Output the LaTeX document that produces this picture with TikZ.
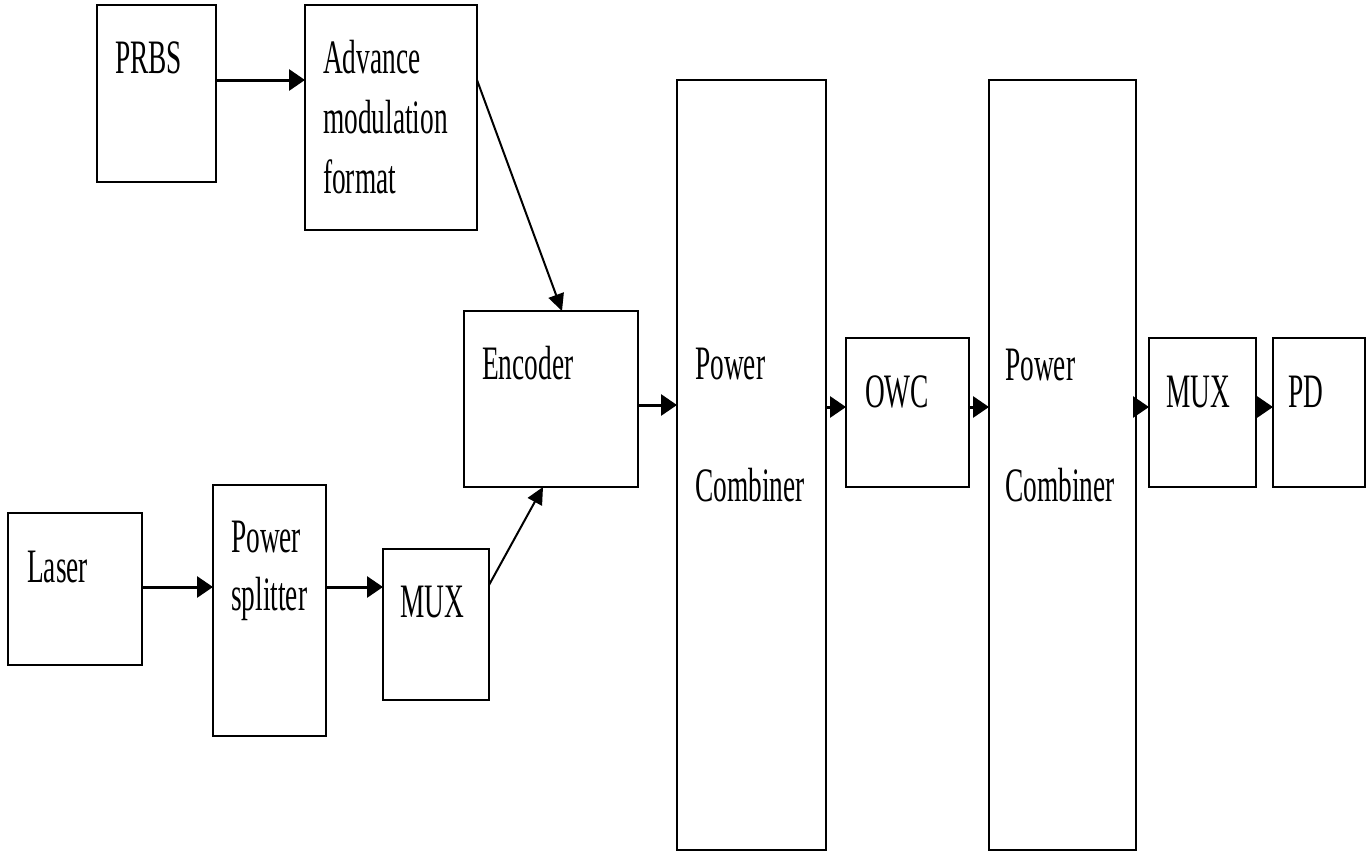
\documentclass[tikz,border=0pt]{standalone}
\usepackage{fontspec}
\setmainfont{Liberation Serif}
\usetikzlibrary{arrows.meta}
\newcommand{\narrow}[1]{\scalebox{0.57}[1]{#1}}
\begin{document}
\begin{tikzpicture}[x=1pt,y=-1pt,
  blk/.style={draw, line width=2.8pt, inner sep=0pt, outer sep=0pt},
  lbl/.style={inner sep=0pt, anchor=base west, font=\fontsize{48}{60}\selectfont},
  flow/.style={line width=3pt, -{Triangle[length=16pt,width=21pt]}},
  slant/.style={line width=2pt, -{Triangle[length=17pt,width=16pt]}}]
\useasboundingbox (0,0) rectangle (1368,852);
% blocks
\node[blk, minimum width=119pt, minimum height=177pt] (prbs)  at (156.5,93.5) {};
\node[blk, minimum width=172pt, minimum height=225pt] (adv)   at (391,117.5) {};
\node[blk, minimum width=174pt, minimum height=176pt] (enc)   at (551,399) {};
\node[blk, minimum width=149pt, minimum height=770pt] (pcA)   at (751.5,465) {};
\node[blk, minimum width=123pt, minimum height=149pt] (owc)   at (907.5,412.5) {};
\node[blk, minimum width=147pt, minimum height=770pt] (pcB)   at (1062.5,465) {};
\node[blk, minimum width=107pt, minimum height=149pt] (muxB)  at (1202.5,412.5) {};
\node[blk, minimum width=92pt,  minimum height=149pt] (pd)    at (1319,412.5) {};
\node[blk, minimum width=134pt, minimum height=152pt] (laser) at (75,589) {};
\node[blk, minimum width=113pt, minimum height=251pt] (psp)   at (269.5,610.5) {};
\node[blk, minimum width=106pt, minimum height=151pt] (muxA)  at (436,624.5) {};
% labels
\node[lbl] (tprbs) at (115,73) {\narrow{PRBS}};
\node[lbl] (tadv1) at (323,73) {\narrow{Advance}};
\node[lbl] (tadv2) at (323,133) {\narrow{modulation}};
\node[lbl] (tadv3) at (323,193) {\narrow{format}};
\node[lbl] (tenc) at (482,379) {\narrow{Encoder}};
\node[lbl] (tpcA1) at (695,379) {\narrow{Power}};
\node[lbl] (tpcA2) at (695,501) {\narrow{Combiner}};
\node[lbl] (towc) at (865,407) {\narrow{OWC}};
\node[lbl] (tpcB1) at (1005,380) {\narrow{Power}};
\node[lbl] (tpcB2) at (1005,501) {\narrow{Combiner}};
\node[lbl] (tmuxB) at (1166,407) {\narrow{MUX}};
\node[lbl] (tpd) at (1288,407) {\narrow{PD}};
\node[lbl] (tlaser) at (27,582) {\narrow{Laser}};
\node[lbl] (tpsp1) at (231,552) {\narrow{Power}};
\node[lbl] (tpsp2) at (231,610) {\narrow{splitter}};
\node[lbl] (tmuxA) at (400,617) {\narrow{MUX}};
% connectors
\draw[flow] ([yshift=13.5pt]prbs.east) -- ([yshift=37.5pt]adv.west);
\draw[slant] ([yshift=37.5pt]adv.east) -- ([xshift=11pt]enc.north);
\draw[flow] ([yshift=2pt]laser.east) -- ([yshift=23.5pt]psp.west);
\draw[flow] ([yshift=23.5pt]psp.east) -- ([yshift=37.5pt]muxA.west);
\draw[slant] ([yshift=39.5pt]muxA.east) -- ([xshift=-8pt]enc.south);
\draw[flow] ([yshift=-6pt]enc.east) -- ([yshift=60pt]pcA.west);
\draw[flow] ([yshift=58pt]pcA.east) -- ([yshift=5.5pt]owc.west);
\draw[flow] ([yshift=5.5pt]owc.east) -- ([yshift=58pt]pcB.west);
\draw[flow] ([yshift=58pt]pcB.east) -- ([yshift=5.5pt]muxB.west);
\draw[flow] ([yshift=5.5pt]muxB.east) -- ([yshift=5.5pt]pd.west);
\end{tikzpicture}
\end{document}
